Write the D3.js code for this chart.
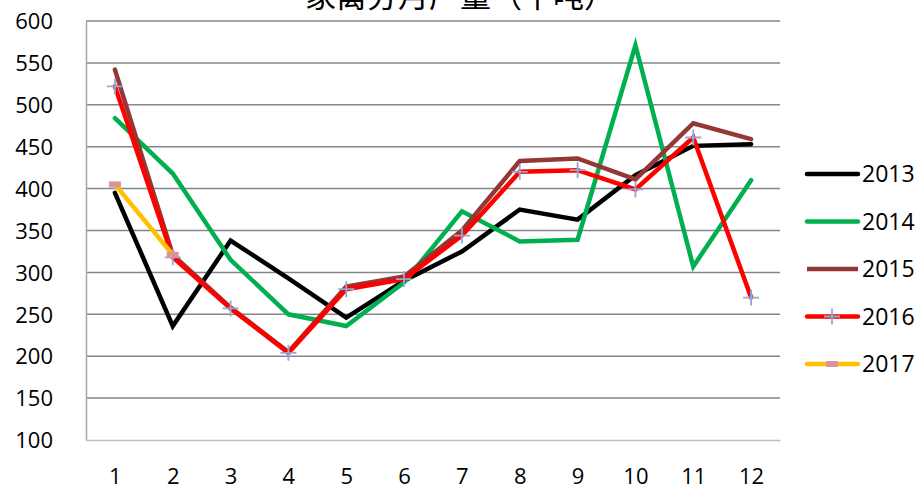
<!DOCTYPE html>
<html>
<head>
<meta charset="utf-8">
<script src="https://cdn.jsdelivr.net/npm/d3@7"></script>
<style>
  body { margin: 0; background: #fff; }
  text { font-family: "Open Sans", "Liberation Sans", sans-serif; fill: #000; }
</style>
</head>
<body>
<div id="chart"></div>
<script>
const months = ['1', '2', '3', '4', '5', '6', '7', '8', '9', '10', '11', '12'];
const yTicks = [100, 150, 200, 250, 300, 350, 400, 450, 500, 550, 600];
const title = '家禽分月产量（千吨）';

const s2013 = [395, 236, 338, 293, 246, 290, 325, 375, 363, 416, 451, 453];
const s2014 = [484, 418, 315, 250, 236, 288, 373, 337, 339, 571, 307, 410];
const s2015 = [542, 321, 258, 205, 283, 295, 350, 433, 436, 411, 478, 459];
const s2016 = [522, 318, 257, 204, 280, 292, 344, 420, 422, 399, 461, 270];
const s2017 = [405, 321];

const series = [
  { name: '2013', values: s2013, color: '#000000', marker: null },
  { name: '2014', values: s2014, color: '#00b050', marker: null },
  { name: '2015', values: s2015, color: '#953735', marker: null },
  { name: '2016', values: s2016, color: '#ff0000', marker: 'plus' },
  { name: '2017', values: s2017, color: '#ffc000', marker: 'rect' }
];

const width = 919, height = 490;
const plot = { left: 86, right: 780, top: 21, bottom: 440 };

const svg = d3.select('#chart').append('svg')
  .attr('width', width)
  .attr('height', height);

const x = d3.scalePoint().domain(months).range([plot.left, plot.right]).padding(0.5);
const y = d3.scaleLinear().domain([100, 600]).range([plot.bottom, plot.top]);

// title sits mostly above the top edge, as in the original
svg.append('text')
  .attr('x', 460).attr('y', 7)
  .attr('text-anchor', 'middle')
  .style('font-family', '"Noto Sans CJK SC", sans-serif')
  .style('font-size', '31px')
  .text(title);

// gridlines
svg.append('g')
  .selectAll('line')
  .data(yTicks.filter(d => d > 100))
  .join('line')
  .attr('x1', plot.left).attr('x2', plot.right)
  .attr('y1', d => y(d)).attr('y2', d => y(d))
  .attr('stroke', '#868686')
  .attr('stroke-width', 1.5);

// axes
const yAxis = svg.append('g')
  .attr('transform', `translate(${plot.left},0)`)
  .call(d3.axisLeft(y).tickValues(yTicks).tickSize(0).tickPadding(33));
yAxis.select('.domain').attr('stroke', '#a6a6a6').attr('stroke-width', 1.5);
yAxis.selectAll('text').style('font-size', '22px').attr('dy', '0.35em');

const xAxis = svg.append('g')
  .attr('transform', `translate(0,${plot.bottom})`)
  .call(d3.axisBottom(x).tickSize(0).tickPadding(28));
xAxis.select('.domain').attr('stroke', '#bfbfbf').attr('stroke-width', 1.5);
xAxis.selectAll('text').style('font-size', '22px');

const line = d3.line()
  .x((d, i) => x(months[i]))
  .y(d => y(d));

const g = svg.append('g');
series.forEach(s => {
  g.append('path')
    .datum(s.values)
    .attr('fill', 'none')
    .attr('stroke', s.color)
    .attr('stroke-width', 4.5)
    .attr('stroke-linecap', 'round')
    .attr('stroke-linejoin', 'miter')
    .attr('d', line);
});

function drawMarker(sel, type, cx, cy) {
  if (type === 'plus') {
    sel.append('path')
      .attr('d', `M${cx - 8},${cy}H${cx + 8}M${cx},${cy - 8}V${cy + 8}`)
      .attr('stroke', '#8eaad6')
      .attr('stroke-width', 1.8)
      .attr('fill', 'none');
  } else if (type === 'rect') {
    sel.append('rect')
      .attr('x', cx - 6).attr('y', cy - 3)
      .attr('width', 12).attr('height', 6)
      .attr('fill', '#d99694');
  }
}

series.filter(s => s.marker).forEach(s => {
  s.values.forEach((v, i) => drawMarker(g, s.marker, x(months[i]), y(v)));
});

// legend
const legend = svg.append('g');
series.forEach((s, i) => {
  const ly = 174 + i * 47.5;
  legend.append('line')
    .attr('x1', 807).attr('x2', 858)
    .attr('y1', ly).attr('y2', ly)
    .attr('stroke', s.color)
    .attr('stroke-width', 4.5)
    .attr('stroke-linecap', s.name === '2015' ? 'butt' : 'round');
  if (s.marker) drawMarker(legend, s.marker, 832, ly);
  legend.append('text')
    .attr('x', 862).attr('y', ly)
    .attr('dy', '0.35em')
    .style('font-size', '23px')
    .text(s.name);
});
</script>
</body>
</html>
